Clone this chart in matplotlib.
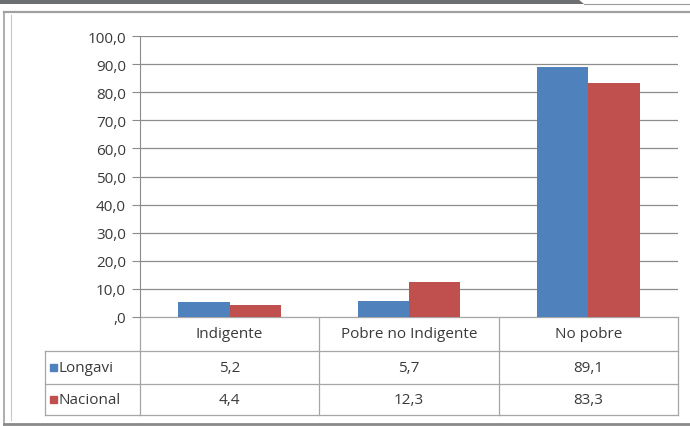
import matplotlib.pyplot as plt
import numpy as np

# data
categorias = ["Indigente", "Pobre no Indigente", "No pobre"]
series = ["Longavi", "Nacional"]
longavi = [5.2, 5.7, 89.1]
nacional = [4.4, 12.3, 83.3]
yticks = [0, 10, 20, 30, 40, 50, 60, 70, 80, 90, 100]

colores = ["#4f81bd", "#c0504d"]
W, H = 690, 427
FS = 11
TC = "#3a3a3a"
plt.rcParams['font.family'] = ['Open Sans', 'DejaVu Sans']


def fmt(v):
    s = "{:.1f}".format(v).replace(".", ",")
    return s[1:] if s.startswith("0,") else s


fig = plt.figure(figsize=(W / 100, H / 100), dpi=100)

# pixel overlay for frame + table
ov = fig.add_axes([0, 0, 1, 1])
ov.set_xlim(0, W)
ov.set_ylim(H, 0)
ov.axis("off")

# dark band on top
ov.fill([0, 578, 584, 0], [0, 0, 5, 5], color="#6d6e71", lw=0)
ov.plot([584, 690], [5, 5], color="#9a9a9a", lw=0.8)
# outer frame
ov.plot([4, 690], [13, 13], color="#a0a0a0", lw=1.6)
ov.plot([4, 4], [13, 426], color="#a0a0a0", lw=1.2)
ov.plot([4, 690], [425, 425], color="#8a8a8a", lw=2.0)
ov.plot([11, 11], [16, 421], color="#c8c8c8", lw=0.8)

# chart axes
x0, x1, ytop, ybot = 140, 678, 37, 318
ax = fig.add_axes([x0 / W, (H - ybot) / H, (x1 - x0) / W, (ybot - ytop) / H])
x = np.arange(len(categorias))
bw = 1 / 3.5
ax.bar(x - bw / 2, longavi, bw, color=colores[0], zorder=3)
ax.bar(x + bw / 2, nacional, bw, color=colores[1], zorder=3)
ax.set_xlim(-0.5, len(categorias) - 0.5)
ax.set_ylim(0, 100)
ax.set_yticks(yticks)
ax.set_yticklabels([fmt(v) for v in yticks], fontsize=FS, color=TC)
ax.set_xticks([])
ax.grid(axis="y", color="#8c8c8c", lw=0.9, zorder=0)
ax.tick_params(axis="y", length=6, color="#8c8c8c", pad=4)
for s in ["top", "right"]:
    ax.spines[s].set_visible(False)
ax.spines["left"].set_color("#8c8c8c")
ax.spines["bottom"].set_visible(False)

# data table
tl = 45
rows = [ybot, 352, 385, 416]
colw = (x1 - x0) / len(categorias)
lc = "#a6a6a6"
ov.plot([x0, x1], [rows[0], rows[0]], color=lc, lw=0.9)
for r in rows[1:]:
    ov.plot([tl, x1], [r, r], color=lc, lw=0.9)
ov.plot([tl, tl], [rows[1], rows[3]], color=lc, lw=0.9)
for i in range(len(categorias) + 1):
    ov.plot([x0 + i * colw] * 2, [rows[0], rows[3]], color=lc, lw=0.9)

for i, c in enumerate(categorias):
    cx = x0 + (i + 0.5) * colw
    ov.text(cx, (rows[0] + rows[1]) / 2, c, ha="center", va="center", fontsize=FS, color=TC)
    for j, vals in enumerate([longavi, nacional]):
        ov.text(cx, (rows[j + 1] + rows[j + 2]) / 2, fmt(vals[i]), ha="center", va="center",
                fontsize=FS, color=TC)

for j, s in enumerate(series):
    cy = (rows[j + 1] + rows[j + 2]) / 2
    ov.add_patch(plt.Rectangle((50, cy - 3.5), 7, 7, color=colores[j]))
    ov.text(59, cy, s, ha="left", va="center", fontsize=FS, color=TC)

fig.savefig("out.png", dpi=100)
